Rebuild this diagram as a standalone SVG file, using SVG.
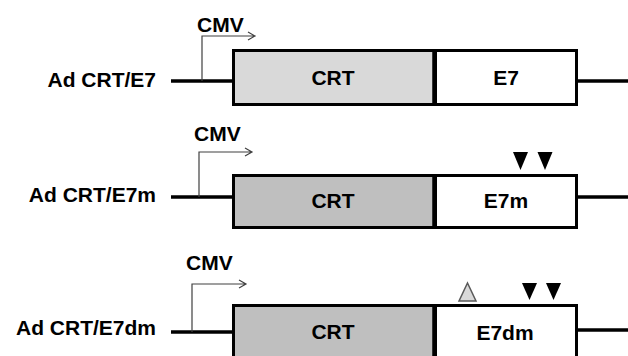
<svg xmlns="http://www.w3.org/2000/svg" width="628" height="356" viewBox="0 0 628 356">
  <defs>
    <style>
      text { font-family: "Liberation Sans", Arial, sans-serif; font-weight: bold; font-size: 21px; fill: #000; }
      .lbl { text-anchor: end; }
      .mid { text-anchor: middle; }
      .box { stroke: #000; stroke-width: 3; }
      .crt1 { fill: #d9d9d9; }
      .crt2 { fill: #bfbfbf; }
      .gene { fill: #fff; }
      .dna { stroke: #000; stroke-width: 3.5; fill: none; }
      .div { stroke: #000; stroke-width: 4.5; }
      .prom { stroke: #404040; stroke-width: 1.2; fill: none; }
      .tri { fill: #000; }
      .tri-open { fill: #d9d9d9; stroke: #595959; stroke-width: 1.5; }
    </style>
  </defs>

  <g id="connectors">
    <line class="dna" x1="171" y1="81" x2="234" y2="81"/>
    <line class="dna" x1="576" y1="81" x2="628" y2="81"/>
    <line class="dna" x1="171" y1="197" x2="234" y2="197"/>
    <line class="dna" x1="576" y1="197" x2="628" y2="197"/>
    <line class="dna" x1="171" y1="332" x2="234" y2="332"/>
    <line class="dna" x1="576" y1="330" x2="628" y2="330"/>
  </g>

  <!-- Row 1 -->
  <g id="label1"><text class="lbl" x="156" y="87">Ad CRT/E7</text></g>
  <g id="cmv1">
    <path class="prom" d="M202,81 V36 H255 M248,32 L255,36 L248,40"/>
    <text x="197" y="32">CMV</text>
  </g>
  <g id="crt1">
    <rect class="box crt1" x="233.5" y="50.5" width="201" height="54"/>
    <text class="mid" x="333" y="85">CRT</text>
  </g>
  <g id="e7">
    <rect class="box gene" x="435.5" y="50.5" width="141" height="54"/>
    <line class="div" x1="434.5" y1="49" x2="434.5" y2="106"/>
    <text class="mid" x="506" y="85">E7</text>
  </g>

  <!-- Row 2 -->
  <g id="label2"><text class="lbl" x="156" y="202">Ad CRT/E7m</text></g>
  <g id="cmv2">
    <path class="prom" d="M199,197 V152 H252 M245,148 L252,152 L245,156"/>
    <text x="194" y="141">CMV</text>
  </g>
  <g id="crt2">
    <rect class="box crt2" x="233.5" y="175.5" width="201" height="52"/>
    <text class="mid" x="333" y="208">CRT</text>
  </g>
  <g id="e7m">
    <rect class="box gene" x="435.5" y="175.5" width="141" height="52"/>
    <line class="div" x1="434.5" y1="174" x2="434.5" y2="229"/>
    <text class="mid" x="506" y="208">E7m</text>
  </g>
  <g id="mut2">
    <polygon class="tri" points="513,152 528,152 520.5,170"/>
    <polygon class="tri" points="537.5,152 552.5,152 545,170"/>
  </g>

  <!-- Row 3 -->
  <g id="label3"><text class="lbl" x="156" y="335">Ad CRT/E7dm</text></g>
  <g id="cmv3">
    <path class="prom" d="M192,332 V284 H246 M239,280 L246,284 L239,288"/>
    <text x="186" y="270">CMV</text>
  </g>
  <g id="crt3">
    <rect class="box crt2" x="233.5" y="305.5" width="201" height="60"/>
    <text class="mid" x="333" y="339">CRT</text>
  </g>
  <g id="e7dm">
    <rect class="box gene" x="435.5" y="305.5" width="141" height="60"/>
    <line class="div" x1="434.5" y1="304" x2="434.5" y2="356"/>
    <text class="mid" x="505" y="340">E7dm</text>
  </g>
  <g id="mut3">
    <polygon class="tri-open" points="467.5,283 476,301 459,301"/>
    <polygon class="tri" points="522,283 537,283 529.5,300"/>
    <polygon class="tri" points="546,283 561,283 553.5,300"/>
  </g>
</svg>
